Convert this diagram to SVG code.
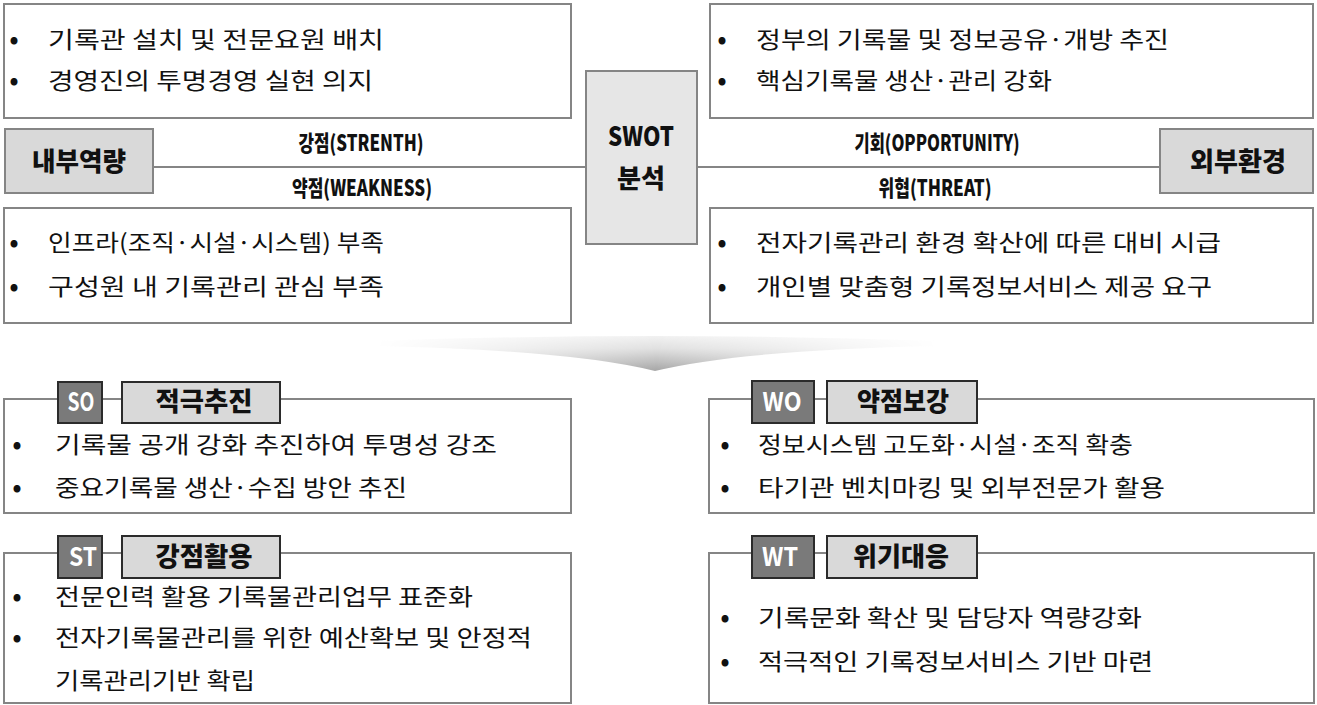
<svg xmlns="http://www.w3.org/2000/svg" width="1317" height="705" viewBox="0 0 1317 705">
<defs>
<linearGradient id="swh" x1="375" y1="0" x2="938" y2="0" gradientUnits="userSpaceOnUse">
<stop offset="0" stop-color="#ffffff" stop-opacity="0"/>
<stop offset="0.3" stop-color="#ffffff" stop-opacity="0.6"/>
<stop offset="0.5" stop-color="#ffffff" stop-opacity="1"/>
<stop offset="0.7" stop-color="#ffffff" stop-opacity="0.6"/>
<stop offset="1" stop-color="#ffffff" stop-opacity="0"/>
</linearGradient>
<mask id="swm" maskUnits="userSpaceOnUse" x="370" y="320" width="575" height="60">
<rect x="370" y="320" width="575" height="60" fill="url(#swh)"/>
</mask>
<linearGradient id="swv" x1="0" y1="334" x2="0" y2="371" gradientUnits="userSpaceOnUse">
<stop offset="0" stop-color="#f4f4f4"/>
<stop offset="0.4" stop-color="#e0e0e0"/>
<stop offset="1" stop-color="#a6a6a6"/>
</linearGradient>
</defs>
<style>
.box{fill:#ffffff;stroke:#858585;stroke-width:2}
.cat{fill:#d9d9d9;stroke:#858585;stroke-width:2}
.swot{fill:#e6e6e6;stroke:#858585;stroke-width:2}
.tag{fill:#7a7a7a;stroke:#2b2b2b;stroke-width:2}
.ttl{fill:#d9d9d9;stroke:#2b2b2b;stroke-width:2}
.ln{stroke:#858585;stroke-width:2;fill:none}
.t{font-family:"Noto Sans CJK KR","Noto Sans",sans-serif;font-size:23px;fill:#111}
.b{font-family:"Noto Sans CJK KR","Noto Sans",sans-serif;font-size:28px;fill:#111;text-anchor:middle}
.h{font-family:"Noto Sans CJK KR","Noto Sans",sans-serif;font-weight:900;fill:#111;text-anchor:middle}
.w{font-family:"Noto Sans CJK KR","Noto Sans",sans-serif;font-weight:700;fill:#ffffff;text-anchor:middle}
</style>

<g id="connectors">
<line class="ln" x1="152" y1="167" x2="586" y2="167"/>
<line class="ln" x1="697" y1="167" x2="1160" y2="167"/>
<path d="M375,341 Q655,331 938,341 L938,346 Q740,350 655,371 Q570,350 375,346 Z" fill="url(#swv)" mask="url(#swm)"/>
</g>

<g id="strength">
<rect class="box" x="4" y="4" width="567" height="114"/>
<text class="b" x="14" y="49">•</text>
<text class="t" x="48" y="48" textLength="336" lengthAdjust="spacingAndGlyphs">기록관 설치 및 전문요원 배치</text>
<text class="b" x="14" y="90">•</text>
<text class="t" x="48" y="89" textLength="325" lengthAdjust="spacingAndGlyphs">경영진의 투명경영 실현 의지</text>
</g>

<g id="weakness">
<rect class="box" x="4" y="208" width="567" height="115"/>
<text class="b" x="14" y="252">•</text>
<text class="t" x="48" y="251" textLength="336" lengthAdjust="spacingAndGlyphs">인프라(조직·시설·시스템) 부족</text>
<text class="b" x="14" y="296">•</text>
<text class="t" x="48" y="295" textLength="336" lengthAdjust="spacingAndGlyphs">구성원 내 기록관리 관심 부족</text>
</g>

<g id="opportunity">
<rect class="box" x="710" y="4" width="603" height="114"/>
<text class="b" x="722" y="49">•</text>
<text class="t" x="756" y="48" textLength="413" lengthAdjust="spacingAndGlyphs">정부의 기록물 및 정보공유·개방 추진</text>
<text class="b" x="722" y="90">•</text>
<text class="t" x="756" y="89" textLength="296" lengthAdjust="spacingAndGlyphs">핵심기록물 생산·관리 강화</text>
</g>

<g id="threat">
<rect class="box" x="710" y="208" width="603" height="115"/>
<text class="b" x="722" y="252">•</text>
<text class="t" x="756" y="251" textLength="465" lengthAdjust="spacingAndGlyphs">전자기록관리 환경 확산에 따른 대비 시급</text>
<text class="b" x="722" y="296">•</text>
<text class="t" x="756" y="295" textLength="456" lengthAdjust="spacingAndGlyphs">개인별 맞춤형 기록정보서비스 제공 요구</text>
</g>

<g id="internal">
<rect class="cat" x="5" y="129" width="148" height="64"/>
<text class="h" x="79" y="171" font-size="26" textLength="94" lengthAdjust="spacingAndGlyphs">내부역량</text>
</g>

<g id="external">
<rect class="cat" x="1160" y="129" width="153" height="64"/>
<text class="h" x="1238" y="171" font-size="26" textLength="96" lengthAdjust="spacingAndGlyphs">외부환경</text>
</g>

<g id="swot">
<rect class="swot" x="586" y="71" width="111" height="173"/>
<text class="h" x="641" y="146" font-size="26" textLength="66" lengthAdjust="spacingAndGlyphs">SWOT</text>
<text class="h" x="641" y="188" font-size="26" textLength="48" lengthAdjust="spacingAndGlyphs">분석</text>
</g>

<g id="labels">
<text class="h" x="361" y="151" font-size="22" textLength="125" lengthAdjust="spacingAndGlyphs">강점(STRENTH)</text>
<text class="h" x="362" y="196" font-size="22" textLength="140" lengthAdjust="spacingAndGlyphs">약점(WEAKNESS)</text>
<text class="h" x="937" y="151" font-size="22" textLength="165" lengthAdjust="spacingAndGlyphs">기회(OPPORTUNITY)</text>
<text class="h" x="935" y="196" font-size="22" textLength="113" lengthAdjust="spacingAndGlyphs">위협(THREAT)</text>
</g>

<g id="so">
<rect class="box" x="4" y="399" width="567" height="114"/>
<rect class="tag" x="58" y="382" width="44" height="41"/>
<text class="w" x="81" y="411" font-size="26" textLength="27" lengthAdjust="spacingAndGlyphs">SO</text>
<rect class="ttl" x="122" y="382" width="158" height="41"/>
<text class="h" x="204" y="411" font-size="26" textLength="97" lengthAdjust="spacingAndGlyphs">적극추진</text>
<text class="b" x="17" y="454">•</text>
<text class="t" x="55" y="453" textLength="442" lengthAdjust="spacingAndGlyphs">기록물 공개 강화 추진하여 투명성 강조</text>
<text class="b" x="17" y="497">•</text>
<text class="t" x="55" y="496" textLength="352" lengthAdjust="spacingAndGlyphs">중요기록물 생산·수집 방안 추진</text>
</g>

<g id="st">
<rect class="box" x="4" y="553" width="567" height="150"/>
<rect class="tag" x="58" y="536" width="44" height="42"/>
<text class="w" x="83" y="566" font-size="26" textLength="28" lengthAdjust="spacingAndGlyphs">ST</text>
<rect class="ttl" x="122" y="536" width="158" height="42"/>
<text class="h" x="204" y="566" font-size="26" textLength="97" lengthAdjust="spacingAndGlyphs">강점활용</text>
<text class="b" x="17" y="606">•</text>
<text class="t" x="55" y="605" textLength="418" lengthAdjust="spacingAndGlyphs">전문인력 활용 기록물관리업무 표준화</text>
<text class="b" x="17" y="647">•</text>
<text class="t" x="55" y="646" textLength="477" lengthAdjust="spacingAndGlyphs">전자기록물관리를 위한 예산확보 및 안정적</text>
<text class="t" x="55" y="689" textLength="200" lengthAdjust="spacingAndGlyphs">기록관리기반 확립</text>
</g>

<g id="wo">
<rect class="box" x="709" y="399" width="605" height="114"/>
<rect class="tag" x="752" y="381" width="62" height="42"/>
<text class="w" x="782" y="411" font-size="26" textLength="39" lengthAdjust="spacingAndGlyphs">WO</text>
<rect class="ttl" x="827" y="381" width="150" height="42"/>
<text class="h" x="903" y="411" font-size="26" textLength="92" lengthAdjust="spacingAndGlyphs">약점보강</text>
<text class="b" x="725" y="454">•</text>
<text class="t" x="758" y="453" textLength="375" lengthAdjust="spacingAndGlyphs">정보시스템 고도화·시설·조직 확충</text>
<text class="b" x="725" y="497">•</text>
<text class="t" x="758" y="496" textLength="407" lengthAdjust="spacingAndGlyphs">타기관 벤치마킹 및 외부전문가 활용</text>
</g>

<g id="wt">
<rect class="box" x="709" y="553" width="605" height="150"/>
<rect class="tag" x="752" y="536" width="62" height="42"/>
<text class="w" x="780" y="566" font-size="26" textLength="36" lengthAdjust="spacingAndGlyphs">WT</text>
<rect class="ttl" x="827" y="536" width="150" height="42"/>
<text class="h" x="901" y="566" font-size="26" textLength="96" lengthAdjust="spacingAndGlyphs">위기대응</text>
<text class="b" x="725" y="627">•</text>
<text class="t" x="758" y="626" textLength="384" lengthAdjust="spacingAndGlyphs">기록문화 확산 및 담당자 역량강화</text>
<text class="b" x="725" y="671">•</text>
<text class="t" x="758" y="670" textLength="395" lengthAdjust="spacingAndGlyphs">적극적인 기록정보서비스 기반 마련</text>
</g>
</svg>
